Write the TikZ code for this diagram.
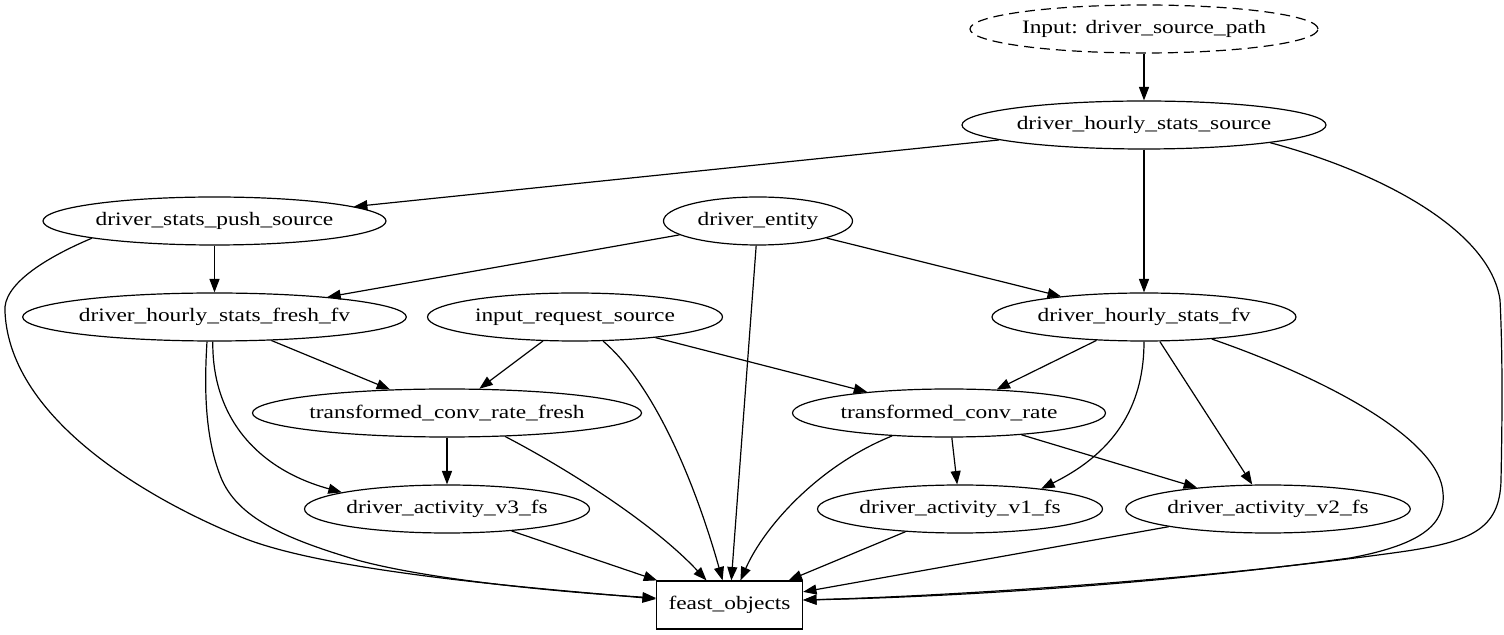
\documentclass[tikz,border=0pt]{standalone}
\usepackage{fontspec}
\setmainfont{Liberation Serif}[FakeStretch=1.23]
\usetikzlibrary{shapes.geometric,arrows.meta}
\begin{document}
\begin{tikzpicture}[x=0.5pt,y=-0.5pt,
  every node/.style={font=\fontsize{9.5pt}{11pt}\selectfont},
  oval/.style={ellipse,draw,line width=0.6pt,inner sep=0pt,minimum height=24pt},
  box/.style={rectangle,draw,line width=0.6pt,inner sep=0pt,minimum width=73pt,minimum height=24pt},
  edge/.style={draw,line width=0.6pt,-{Triangle[length=6.7pt,width=5pt]}}]
\useasboundingbox (0,0) rectangle (1504,635);

% nodes
\node[oval,dashed,dash pattern=on 5pt off 3pt,minimum width=174pt] (inp) at (1144,29) {Input: driver\_source\_path};
\node[oval,minimum width=182pt] (dhss) at (1144,125) {driver\_hourly\_stats\_source};
\node[oval,minimum width=171.5pt] (push) at (214.5,221) {driver\_stats\_push\_source};
\node[oval,minimum width=94.5pt] (entity) at (758,221) {driver\_entity};
\node[oval,minimum width=189.5pt] (fresh) at (214.5,317) {driver\_hourly\_stats\_fresh\_fv};
\node[oval,minimum width=147.5pt] (ireq) at (575,317) {input\_request\_source};
\node[oval,minimum width=152pt] (dhsfv) at (1144,317) {driver\_hourly\_stats\_fv};
\node[oval,minimum width=194.5pt] (tcrf) at (447,413) {transformed\_conv\_rate\_fresh};
\node[oval,minimum width=156.5pt] (tcr) at (949,413) {transformed\_conv\_rate};
\node[oval,minimum width=142.5pt] (v3) at (447,509) {driver\_activity\_v3\_fs};
\node[oval,minimum width=142.5pt] (v1) at (960,509) {driver\_activity\_v1\_fs};
\node[oval,minimum width=142pt] (v2) at (1268,509) {driver\_activity\_v2\_fs};
\node[box] (feast) at (729.5,605) {feast\_objects};

% edges
\draw[edge] (inp) -- (dhss);
\draw[edge] (dhss) -- (push);
\draw[edge] (dhss) -- (dhsfv);
\draw[edge] (dhss.352.5) .. controls (1380,172) and (1490,230) .. (1500,300)
  .. controls (1503,360) and (1502,430) .. (1501,480)
  .. controls (1500,530) and (1470,542) .. (1400,552)
  .. controls (1200,580) and (950,596) .. ([yshift=2.5pt]feast.east);

\draw[edge] (push) -- (fresh);
\draw[edge] (push.188) .. controls (45,258) and (2,285) .. (5,312)
  .. controls (10,420) and (150,500) .. (241,537)
  .. controls (331,574) and (560,590) .. ([yshift=3pt]feast.west);

\draw[edge] (entity) -- (fresh);
\draw[edge] (entity) -- (dhsfv);
\draw[edge] (entity) -- (feast);

\draw[edge] (fresh) -- (tcrf);
\draw[edge] (fresh.266.6) .. controls (212,420) and (260,470) .. (v3.171.6);
\draw[edge] (fresh.253.3) .. controls (204,390) and (205,440) .. (222,480)
  .. controls (240,520) and (290,540) .. (357,560)
  .. controls (430,580) and (560,592) .. ([yshift=3.5pt]feast.west);

\draw[edge] (ireq) -- (tcrf);
\draw[edge] (ireq) .. controls (660,390) and (700,500) .. (feast);
\draw[edge] (ireq) -- (tcr);

\draw[edge] (dhsfv) -- (tcr);
\draw[edge] (dhsfv.south) .. controls (1144,400) and (1120,450) .. (v1.14);
\draw[edge] (dhsfv) -- (v2);
\draw[edge] (dhsfv.342.3) .. controls (1330,380) and (1440,440) .. (1443,493)
  .. controls (1446,525) and (1420,545) .. (1350,558)
  .. controls (1150,585) and (950,597) .. ([yshift=2.5pt]feast.east);

\draw[edge] (tcrf) -- (v3);
\draw[edge] (tcrf.338) .. controls (560,465) and (650,520) .. (feast);

\draw[edge] (tcr) .. controls (820,465) and (765,525) .. (feast);
\draw[edge] (tcr) -- (v1);
\draw[edge] (tcr) -- (v2);

\draw[edge] (v3) -- (feast);
\draw[edge] (v1) -- (feast);
\draw[edge] (v2) -- (feast);
\end{tikzpicture}
\end{document}
